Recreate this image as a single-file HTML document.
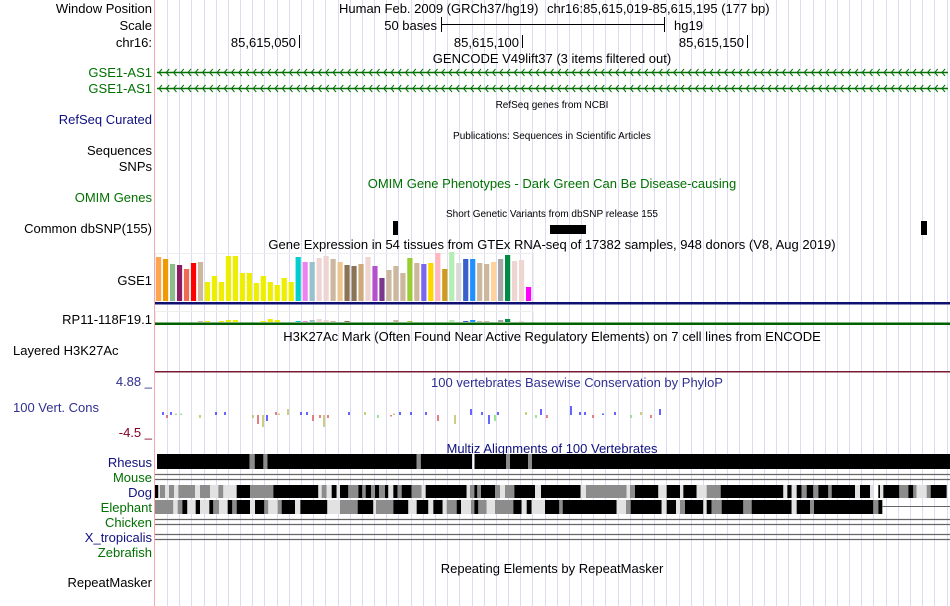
<!DOCTYPE html>
<html><head><meta charset="utf-8">
<style>
body{margin:0;background:#fff;}
#wrap{position:relative;width:950px;height:606px;overflow:hidden;font-family:"Liberation Sans",sans-serif;}
svg text{font-family:"Liberation Sans",sans-serif;}
</style></head>
<body>
<div id="wrap">
<svg id="svg" width="950" height="606" xmlns="http://www.w3.org/2000/svg">
<g id="grid"></g>
<line x1="154.5" y1="0" x2="154.5" y2="606" stroke="#f5a8a8"/>
<g font-size="13" fill="#000" text-anchor="end">
<text x="152" y="13">Window Position</text>
<text x="152" y="30">Scale</text>
<text x="152" y="47">chr16:</text>
<text x="152" y="77" fill="#007000">GSE1-AS1</text>
<text x="152" y="93" fill="#007000">GSE1-AS1</text>
<text x="152" y="124" fill="#101080">RefSeq Curated</text>
<text x="152" y="155">Sequences</text>
<text x="152" y="171">SNPs</text>
<text x="152" y="202" fill="#007000">OMIM Genes</text>
<text x="152" y="233">Common dbSNP(155)</text>
<text x="152" y="285">GSE1</text>
<text x="152" y="324">RP11-118F19.1</text>
<text x="13" y="355" text-anchor="start">Layered H3K27Ac</text>
<text x="152" y="386" fill="#303090">4.88 _</text>
<text x="13" y="412" text-anchor="start" fill="#303090">100 Vert. Cons</text>
<text x="152" y="437" fill="#800020">-4.5 _</text>
<text x="152" y="467" fill="#101080">Rhesus</text>
<text x="152" y="482" fill="#007000">Mouse</text>
<text x="152" y="497" fill="#101080">Dog</text>
<text x="152" y="512" fill="#007000">Elephant</text>
<text x="152" y="527" fill="#007000">Chicken</text>
<text x="152" y="542" fill="#101080">X_tropicalis</text>
<text x="152" y="557" fill="#007000">Zebrafish</text>
<text x="152" y="587">RepeatMasker</text>
</g>
<g font-size="13" fill="#000">
<text x="339" y="13">Human Feb. 2009 (GRCh37/hg19)</text>
<text x="547" y="13">chr16:85,615,019-85,615,195 (177 bp)</text>
<text x="437" y="30" text-anchor="end">50 bases</text>
<line x1="441" y1="24.5" x2="664" y2="24.5" stroke="#000"/>
<line x1="441.5" y1="17" x2="441.5" y2="32" stroke="#000"/>
<line x1="664.5" y1="17" x2="664.5" y2="32" stroke="#000"/>
<text x="674" y="30">hg19</text>
<text x="296" y="47" text-anchor="end">85,615,050</text>
<line x1="299.5" y1="35" x2="299.5" y2="48" stroke="#000"/>
<text x="519" y="47" text-anchor="end">85,615,100</text>
<line x1="522.5" y1="35" x2="522.5" y2="48" stroke="#000"/>
<text x="744" y="47" text-anchor="end">85,615,150</text>
<line x1="747.5" y1="35" x2="747.5" y2="48" stroke="#000"/>
<text x="552" y="63" text-anchor="middle">GENCODE V49lift37 (3 items filtered out)</text>
<text x="552" y="108" text-anchor="middle" font-size="10">RefSeq genes from NCBI</text>
<text x="552" y="139" text-anchor="middle" font-size="10">Publications: Sequences in Scientific Articles</text>
<text x="552" y="188" text-anchor="middle" fill="#007000">OMIM Gene Phenotypes - Dark Green Can Be Disease-causing</text>
<text x="552" y="217" text-anchor="middle" font-size="10">Short Genetic Variants from dbSNP release 155</text>
<text x="552" y="249" text-anchor="middle">Gene Expression in 54 tissues from GTEx RNA-seq of 17382 samples, 948 donors (V8, Aug 2019)</text>
<text x="552" y="341" text-anchor="middle">H3K27Ac Mark (Often Found Near Active Regulatory Elements) on 7 cell lines from ENCODE</text>
<text x="577" y="387" text-anchor="middle" fill="#303090">100 vertebrates Basewise Conservation by PhyloP</text>
<text x="552" y="453" text-anchor="middle" fill="#101080">Multiz Alignments of 100 Vertebrates</text>
<text x="552" y="573" text-anchor="middle">Repeating Elements by RepeatMasker</text>
</g>
<g id="genes"></g>
<g>
<rect x="393" y="221" width="5" height="14" fill="#000"/>
<rect x="550" y="225" width="36" height="9" fill="#000"/>
<rect x="921" y="221" width="6" height="14" fill="#000"/>
</g>
<rect x="155.5" y="253.5" width="378" height="49" fill="none" stroke="#eee"/>
<rect x="155.5" y="311.5" width="378" height="12" fill="none" stroke="#eee"/>
<g id="gtex"></g>
<rect x="155" y="302" width="795" height="2.5" fill="#101070"/>
<rect x="155" y="322.5" width="795" height="2.5" fill="#006000"/>
<rect x="155" y="371" width="795" height="1.5" fill="#7a1a30"/>
<g id="cons"></g>
<g id="multiz"></g>
</svg>
</div>
<script>
// GTEx tissue expression (relative px heights), GSE1
const gtexValues=[44,42,37,36,32,38,39,19,25,19,45,45,28,28,18,25,19,16,23,19,44,39,39,43,45,42,39,36,35,37,44,35,23,31,35,28,43,38,37,38,48,32,49,38,42,42,38,37,39,42,46,40,41,14];
const gtexColors=["#ffa54f","#ee9a00","#8fbc8f","#8b1c62","#ee6a50","#ff0000","#cdb79e","#eeee00","#eeee00","#eeee00","#eeee00","#eeee00","#eeee00","#eeee00","#eeee00","#eeee00","#eeee00","#eeee00","#eeee00","#eeee00","#00cdcd","#ee82ee","#9ac0cd","#eed5d2","#eed5d2","#cdb79e","#eec591","#8b7355","#8b7355","#cdaa7d","#eed5d2","#b452cd","#7a378b","#cdb79e","#cdb79e","#cdb79e","#9acd32","#cdb79e","#7a67ee","#ffd700","#ffb6c1","#cd9b1d","#b4eeb4","#d9d9d9","#3a5fcd","#1e90ff","#cdb79e","#cdb79e","#ffd39b","#a6a6a6","#008b45","#eed5d2","#eed5d2","#ff00ff"];
// RP11-118F19.1 small expression
const rp11Values=[0,0,0,0,0,0,1,1,0,1,2,2,0,0,0,1,3,2,0,0,1,1,2,3,2,1,0,1,0,0,0,0,0,0,2,0,1,0,0,0,0,0,2,0,1,2,1,1,0,2,3,0,1,0];
// Multiz blocks: [start, end, shade]
const rhesus=[[157,249.6,"K"],[249.6,254.7,"G"],[254.7,263.4,"K"],[263.4,267.5,"G"],[267.5,416.7,"K"],[416.7,420.8,"G"],[420.8,472,"K"],[474.5,506,"K"],[506,510,"G"],[510,528,"K"],[528,532,"G"],[532,950,"K"]];
const dogZ1=[[0,10,"K"],[10,15,"L"],[15,30,"G"],[30,42,"L"],[42,57,"G"],[57,70,"L"],[70,120,"G"],[120,135,"L"],[135,165,"G"],[165,190,"L"],[190,205,"G"],[205,245,"L"],[245,285,"K"],[285,355,"G"],[355,490,"K"],[490,500,"L"],[500,515,"G"],[515,530,"L"],[530,545,"K"],[545,555,"L"],[555,580,"K"],[580,610,"G"],[610,622,"K"],[622,632,"G"],[632,648,"K"],[648,660,"G"],[660,672,"K"],[672,690,"G"],[690,700,"K"],[700,715,"L"],[715,728,"K"],[728,740,"G"],[740,770,"K"],[770,800,"G"],[800,812,"L"],[812,935,"K"],[935,945,"L"],[945,958,"G"],[958,967,"K"],[967,978,"G"],[978,1020,"K"],[1020,1035,"G"],[1035,1050,"L"],[1050,1078,"G"],[1078,1140,"K"],[1140,1158,"L"],[1158,1200,"K"]];
const dogZ2=[[0,92,"K"],[92,108,"L"],[108,230,"G"],[230,240,"L"],[240,255,"G"],[255,325,"K"],[325,350,"L"],[350,390,"K"],[390,400,"L"],[400,440,"K"],[440,470,"L"],[470,512,"G"],[512,700,"K"],[700,712,"L"],[712,725,"K"],[725,740,"L"],[740,755,"K"],[755,770,"G"],[770,790,"K"],[790,805,"G"],[805,835,"K"],[835,845,"G"],[845,915,"K"],[915,930,"L"],[930,960,"K"],[960,970,"L"],[985,990,"K"],[990,1000,"L"],[1000,1048,"K"],[1048,1075,"G"],[1075,1090,"K"],[1090,1100,"G"],[1100,1130,"L"],[1130,1142,"G"],[1142,1190,"K"]];
const eleZ1=[[0,55,"G"],[55,68,"L"],[68,82,"G"],[82,97,"K"],[97,122,"L"],[122,135,"K"],[135,163,"L"],[163,175,"K"],[175,192,"G"],[192,218,"L"],[218,232,"K"],[232,245,"G"],[245,285,"K"],[285,300,"L"],[300,328,"K"],[328,340,"G"],[340,368,"L"],[368,380,"G"],[380,420,"K"],[420,436,"L"],[436,517,"K"],[517,555,"L"],[555,608,"G"],[608,655,"K"],[655,663,"L"],[663,715,"G"],[715,760,"K"],[760,785,"L"],[785,820,"K"],[820,835,"L"],[835,863,"K"],[863,875,"L"],[875,905,"G"],[905,918,"K"],[918,948,"L"],[948,958,"G"],[958,970,"K"],[970,995,"G"],[995,1020,"L"],[1020,1075,"G"],[1075,1100,"K"],[1100,1115,"L"],[1115,1130,"K"],[1130,1170,"L"],[1170,1200,"K"]];
const eleZ2=[[0,28,"K"],[28,38,"G"],[38,200,"K"],[200,228,"L"],[228,242,"G"],[242,335,"K"],[335,350,"L"],[350,378,"K"],[378,390,"L"],[390,405,"G"],[405,460,"K"],[460,470,"L"],[470,485,"K"],[485,515,"G"],[515,580,"K"],[580,605,"G"],[605,725,"K"],[725,740,"L"],[740,780,"K"],[780,792,"G"],[792,970,"K"],[970,985,"G"],[985,997,"K"]];
// PhyloP sparse values
const consPos=[162,166,170,175,180,199,215,224,252,257,262,266,275,278,287,300,306,312,319,323,327,348,364,377,390,393,399,410,425,437,454,470,481,488,494,497,525,535,540,546,570,579,584,592,602,614,630,640,650,659];
const consVal=[1,-1,1,0.5,0.5,-1,1,1,-1,-3,-4,-2,1,0.5,2,1,1,-2,-1,-4,-1,1,1,-1,-0.5,0.5,1,1,1,-2,-3,2,1,-3,-2,1,1,-1,2,-1,3,1,1,-1,0.5,1,-1,1,-1,2];
const consCol=["#4040ff","#e06060","#4040ff","#c0c060","#80e080","#c0c060","#4040ff","#4040ff","#c0c060","#e06060","#c0c060","#4040ff","#e06060","#c0c060","#c0c060","#4040ff","#4040ff","#e06060","#e06060","#c0c060","#e06060","#4040ff","#c0c060","#80e080","#e06060","#c0c060","#4040ff","#4040ff","#4040ff","#e06060","#c0c060","#4040ff","#4040ff","#4040ff","#80e080","#4040ff","#c0c060","#80e080","#4040ff","#e06060","#4040ff","#4040ff","#4040ff","#e06060","#4040ff","#4040ff","#80e080","#c0c060","#e06060","#4040ff"];

const NS="http://www.w3.org/2000/svg";
function mk(parent,tag,attrs){const e=document.createElementNS(NS,tag);for(const k in attrs)e.setAttribute(k,attrs[k]);parent.appendChild(e);return e;}

const grid=document.getElementById('grid');
for(let x=167;x<950;x+=12.18){
  const l=mk(grid,'line',{x1:Math.round(x)+0.5,y1:0,x2:Math.round(x)+0.5,y2:606,stroke:'#dcdcf4'});
  
  
}
const genes=document.getElementById('genes');
[72,88].forEach(y=>{
  const g=mk(genes,'g',{});
  
  
  mk(g,'line',{x1:157,y1:y+0.5,x2:948,y2:y+0.5,stroke:'#007000','stroke-width':1.5});
  for(let x=158;x<945;x+=7.25){
    mk(g,'polyline',{points:`${x+4},${y-3} ${x+1},${y+0.5} ${x+4},${y+4}`,fill:'none',stroke:'#007000','stroke-width':1});
  }
});
const gtex=document.getElementById('gtex');
const bx=i=>156+i*6.98;
gtexValues.forEach((v,i)=>{
  const r=mk(gtex,'rect',{x:bx(i),y:301-v,width:5.2,height:v,fill:gtexColors[i]});
  
  
});
rp11Values.forEach((v,i)=>{
  if(v<=0)return;
  const r=mk(gtex,'rect',{x:bx(i),y:322-v,width:5.2,height:v,fill:gtexColors[i]});
  
  
});
const cons=document.getElementById('cons');
const cy=v=>415-v*3;
consPos.forEach((p,i)=>{
  const v=consVal[i];
  const y0=Math.min(cy(0),cy(v)),h=Math.max(1.5,Math.abs(cy(v)-cy(0)));
  const r=mk(cons,'rect',{x:p,y:y0,width:2,height:h,fill:consCol[i],opacity:0.8});
  
  
});
const mz=document.getElementById('multiz');
const shade={K:'#000',G:'#8c8c8c',L:'#e2e2e2'};
function blocks(list,y,h,xf,name){
  list.forEach(b=>{
    const r=mk(mz,'rect',{x:xf(b[0]),y:y,width:xf(b[1])-xf(b[0]),height:h,fill:shade[b[2]]});
    
    
  });
}
blocks(rhesus,454,15,x=>x,'rhesus-block');
blocks(dogZ1,485,13,z=>155+z/3,'dog-block');
blocks(dogZ2,485,13,z=>550+z/3,'dog-block');
blocks(eleZ1,500,14,z=>155+z/3,'elephant-block');
blocks(eleZ2,500,14,z=>550+z/3,'elephant-block');
mk(mz,'line',{x1:882,y1:506.5,x2:950,y2:506.5,stroke:'#666'});
[474,479,519,524,534,539].forEach(y=>{
  const l=mk(mz,'line',{x1:155,y1:y+0.5,x2:950,y2:y+0.5,stroke:'#666','stroke-width':1.2});
  
  
});
</script>
</body></html>
